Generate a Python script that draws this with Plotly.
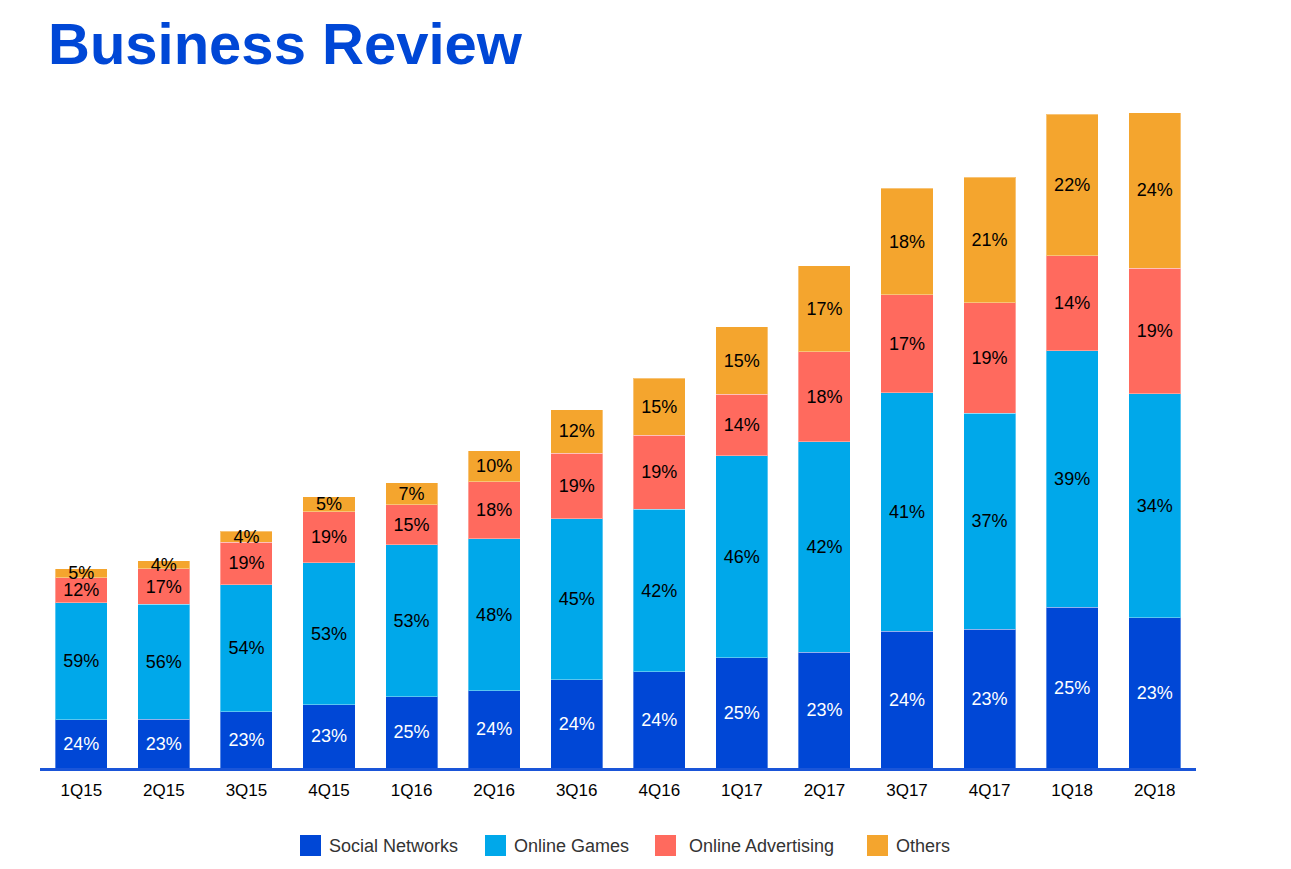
import plotly.graph_objects as go

# quarters on the x axis
quarters = ["1Q15", "2Q15", "3Q15", "4Q15", "1Q16", "2Q16", "3Q16",
            "4Q16", "1Q17", "2Q17", "3Q17", "4Q17", "1Q18", "2Q18"]

# revenue by segment (RMB bn)
social = [5.4, 5.5, 6.3, 7.1, 8.0, 8.7, 9.9, 10.8, 12.4, 13.0, 15.4, 15.6, 18.1, 16.9]
games = [13.2, 12.9, 14.3, 16.0, 17.1, 17.1, 18.1, 18.3, 22.7, 23.7, 26.8, 24.3, 28.8, 25.2]
advertising = [2.8, 4.0, 4.8, 5.7, 4.5, 6.4, 7.4, 8.3, 6.9, 10.1, 11.0, 12.4, 10.7, 14.1]
others = [1.0, 0.9, 1.2, 1.7, 2.5, 3.5, 4.9, 6.4, 7.6, 9.7, 12.0, 14.1, 15.9, 17.5]

# share labels printed on the bars
social_pct = [24, 23, 23, 23, 25, 24, 24, 24, 25, 23, 24, 23, 25, 23]
games_pct = [59, 56, 54, 53, 53, 48, 45, 42, 46, 42, 41, 37, 39, 34]
advertising_pct = [12, 17, 19, 19, 15, 18, 19, 19, 14, 18, 17, 19, 14, 19]
others_pct = [5, 4, 4, 5, 7, 10, 12, 15, 15, 17, 18, 21, 22, 24]

series = [
    ("Social Networks", social, social_pct, "#0047d6", "white"),
    ("Online Games", games, games_pct, "#00a8ea", "black"),
    ("Online Advertising", advertising, advertising_pct, "#ff6a5e", "black"),
    ("Others", others, others_pct, "#f4a52e", "black"),
]

# figure geometry (page body adds an 8px offset)
W, H = 1275, 853
ML, MR, MT, MB = 32, 87, 93, 93
plot_w = W - ML - MR
plot_h = H - MT - MB

# hand-drawn legend: square left edge and label left edge, in figure pixels
legend_square_x = [292, 477, 647, 859]
legend_text_x = [319, 504, 679, 886]
legend_y = 845.5 - 8
square = 21


def px_x(px):
    return (px - ML) / plot_w


def px_y(py):
    return (H - MB - py) / plot_h


fig = go.Figure()
for name, vals, pct, color, txt_color in series:
    fig.add_trace(
        go.Bar(
            x=quarters,
            y=vals,
            name=name,
            text=[f"{p}%" for p in pct],
            textposition="inside",
            insidetextanchor="middle",
            textfont=dict(color=txt_color, size=18),
            marker=dict(color=color, line=dict(color="rgba(255,255,255,0.35)", width=1)),
            hoverinfo="skip",
        )
    )

for i, (name, _, _, color, _) in enumerate(series):
    fig.add_shape(
        type="rect",
        xref="paper",
        yref="paper",
        x0=px_x(legend_square_x[i]),
        x1=px_x(legend_square_x[i] + square),
        y0=px_y(legend_y + square / 2),
        y1=px_y(legend_y - square / 2),
        fillcolor=color,
        line_width=0,
    )
    fig.add_annotation(
        xref="paper",
        yref="paper",
        x=px_x(legend_text_x[i]),
        y=px_y(legend_y),
        xanchor="left",
        yanchor="middle",
        text=name,
        showarrow=False,
        font=dict(size=18, color="#333333"),
    )

fig.update_layout(
    barmode="stack",
    bargap=0.37,
    width=W,
    height=H,
    margin=dict(l=ML, r=MR, t=MT, b=MB),
    plot_bgcolor="white",
    paper_bgcolor="white",
    font=dict(family="Liberation Sans, Arial, sans-serif", color="black"),
    uniformtext=dict(minsize=18, mode="show"),
    showlegend=False,
    title=dict(
        text="<b>Business Review</b>",
        x=40 / W,
        xanchor="left",
        y=1 - 15 / H,
        yanchor="top",
        font=dict(size=58, color="#0047d6"),
    ),
)

fig.update_xaxes(
    showline=True,
    linecolor="#1a55d8",
    linewidth=3,
    ticks="",
    ticklabelstandoff=5,
    tickfont=dict(size=17, color="black"),
    range=[-0.5, 13.5],
)
fig.update_yaxes(
    visible=False,
    range=[0, 75],
    showgrid=False,
)

fig.write_html("out.html")
